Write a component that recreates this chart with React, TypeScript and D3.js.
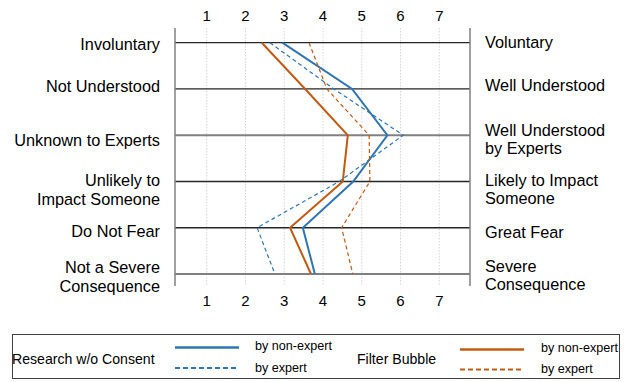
import React from "react";
import * as d3 from "d3";

const leftLabels = [
  ["Involuntary"],
  ["Not Understood"],
  ["Unknown to Experts"],
  ["Unlikely to", "Impact Someone"],
  ["Do Not Fear"],
  ["Not a Severe", "Consequence"],
];
const rightLabels = [
  ["Voluntary"],
  ["Well Understood"],
  ["Well Understood", "by Experts"],
  ["Likely to Impact", "Someone"],
  ["Great Fear"],
  ["Severe", "Consequence"],
];
const ticks = [1, 2, 3, 4, 5, 6, 7];

const researchNonExpert = [2.95, 4.75, 5.66, 4.78, 3.48, 3.79];
const researchExpert = [2.63, 4.28, 6.07, 4.42, 2.3, 2.76];
const filterNonExpert = [2.42, 3.54, 4.64, 4.51, 3.15, 3.69];
const filterExpert = [3.64, 4.1, 5.19, 5.21, 4.48, 4.77];

// layout-only offsets for label block centres (px)
const LEFT_SHIFT = [1.3, -3.3, 5, 8, 3.4, 2.5];
const RIGHT_SHIFT = [-1, -4.3, 3.8, 7.5, 4.4, 1];

const BLUE = "#2e75b6";
const ORANGE = "#c55a11";
const FONT = "'Liberation Sans', Arial, sans-serif";

export default function App() {
  const x = d3.scaleLinear().domain([1, 7]).range([206.7, 439.3]);
  const y = d3.scalePoint<number>().domain(d3.range(6)).range([42.7, 274]);
  const axisL = 175;
  const axisR = 470;
  const top = 28;
  const bottom = 286;
  const line = d3
    .line<number>()
    .x((d) => x(d))
    .y((_, i) => y(i) as number);

  const series = [
    { data: researchNonExpert, color: BLUE, dash: null, w: 2 },
    { data: researchExpert, color: BLUE, dash: "4,3", w: 1.2 },
    { data: filterNonExpert, color: ORANGE, dash: null, w: 2 },
    { data: filterExpert, color: ORANGE, dash: "4,3", w: 1.2 },
  ];
  const lh = 18.5;

  return (
    <svg
      width={629}
      height={382}
      style={{ position: "absolute", left: 0, top: 0, background: "#fff" }}
      fontFamily={FONT}
    >
      <rect width={629} height={382} fill="#fff" />
      {ticks.map((t) => (
        <line
          key={"g" + t}
          x1={x(t)}
          x2={x(t)}
          y1={top}
          y2={bottom}
          stroke="#d4d4d4"
          strokeWidth={1}
          strokeDasharray="1.5,1.5"
        />
      ))}
      {d3.range(6).map((i) => {
        const gray = i === 2 || i === 5;
        return (
          <line
            key={"r" + i}
            x1={axisL}
            x2={axisR}
            y1={y(i)}
            y2={y(i)}
            stroke={gray ? "#808080" : "#262626"}
            strokeWidth={gray ? 2 : 1.3}
          />
        );
      })}
      <line x1={axisL} x2={axisL} y1={top} y2={bottom} stroke="#808080" strokeWidth={1.5} />
      <line x1={axisR} x2={axisR} y1={top} y2={bottom} stroke="#808080" strokeWidth={1.5} />
      {ticks.map((t) => (
        <g key={"t" + t}>
          <text x={x(t)} y={15} fontSize={15} textAnchor="middle" dominantBaseline="central" fill="#000">
            {t}
          </text>
          <text x={x(t)} y={300} fontSize={15} textAnchor="middle" dominantBaseline="central" fill="#000">
            {t}
          </text>
        </g>
      ))}
      {leftLabels.map((ls, i) => {
        const c = (y(i) as number) + LEFT_SHIFT[i];
        const y0 = c - ((ls.length - 1) * lh) / 2;
        return ls.map((s, j) => (
          <text
            key={"l" + i + j}
            x={160}
            y={y0 + j * lh}
            fontSize={16.3}
            textAnchor="end"
            dominantBaseline="central"
            fill="#000"
          >
            {s}
          </text>
        ));
      })}
      {rightLabels.map((ls, i) => {
        const c = (y(i) as number) + RIGHT_SHIFT[i];
        const y0 = c - ((ls.length - 1) * lh) / 2;
        return ls.map((s, j) => (
          <text
            key={"rl" + i + j}
            x={485}
            y={y0 + j * lh}
            fontSize={16.3}
            textAnchor="start"
            dominantBaseline="central"
            fill="#000"
          >
            {s}
          </text>
        ));
      })}
      {series.map((s, i) => (
        <path
          key={"s" + i}
          d={line(s.data) as string}
          fill="none"
          stroke={s.color}
          strokeWidth={s.w}
          strokeDasharray={s.dash ?? undefined}
          strokeLinejoin="miter"
        />
      ))}
      {/* legend */}
      <rect x={12.5} y={334.5} width={607} height={44} fill="none" stroke="#404040" strokeWidth={1} />
      <text x={12} y={359} fontSize={14.1} dominantBaseline="central">Research w/o Consent</text>
      <line x1={175} x2={239} y1={347.5} y2={347.5} stroke={BLUE} strokeWidth={2.5} />
      <line x1={175} x2={239} y1={368} y2={368} stroke={BLUE} strokeWidth={2} strokeDasharray="5,3" />
      <text x={255} y={345.5} fontSize={12.6} dominantBaseline="central">by non-expert</text>
      <text x={255} y={367.5} fontSize={12.6} dominantBaseline="central">by expert</text>
      <text x={357} y={359} fontSize={14.1} dominantBaseline="central">Filter Bubble</text>
      <line x1={460} x2={524} y1={349.5} y2={349.5} stroke={ORANGE} strokeWidth={2.5} />
      <line x1={460} x2={524} y1={369.5} y2={369.5} stroke={ORANGE} strokeWidth={2} strokeDasharray="5,3" />
      <text x={541} y={347.5} fontSize={12.6} dominantBaseline="central">by non-expert</text>
      <text x={541} y={368.5} fontSize={12.6} dominantBaseline="central">by expert</text>
    </svg>
  );
}
